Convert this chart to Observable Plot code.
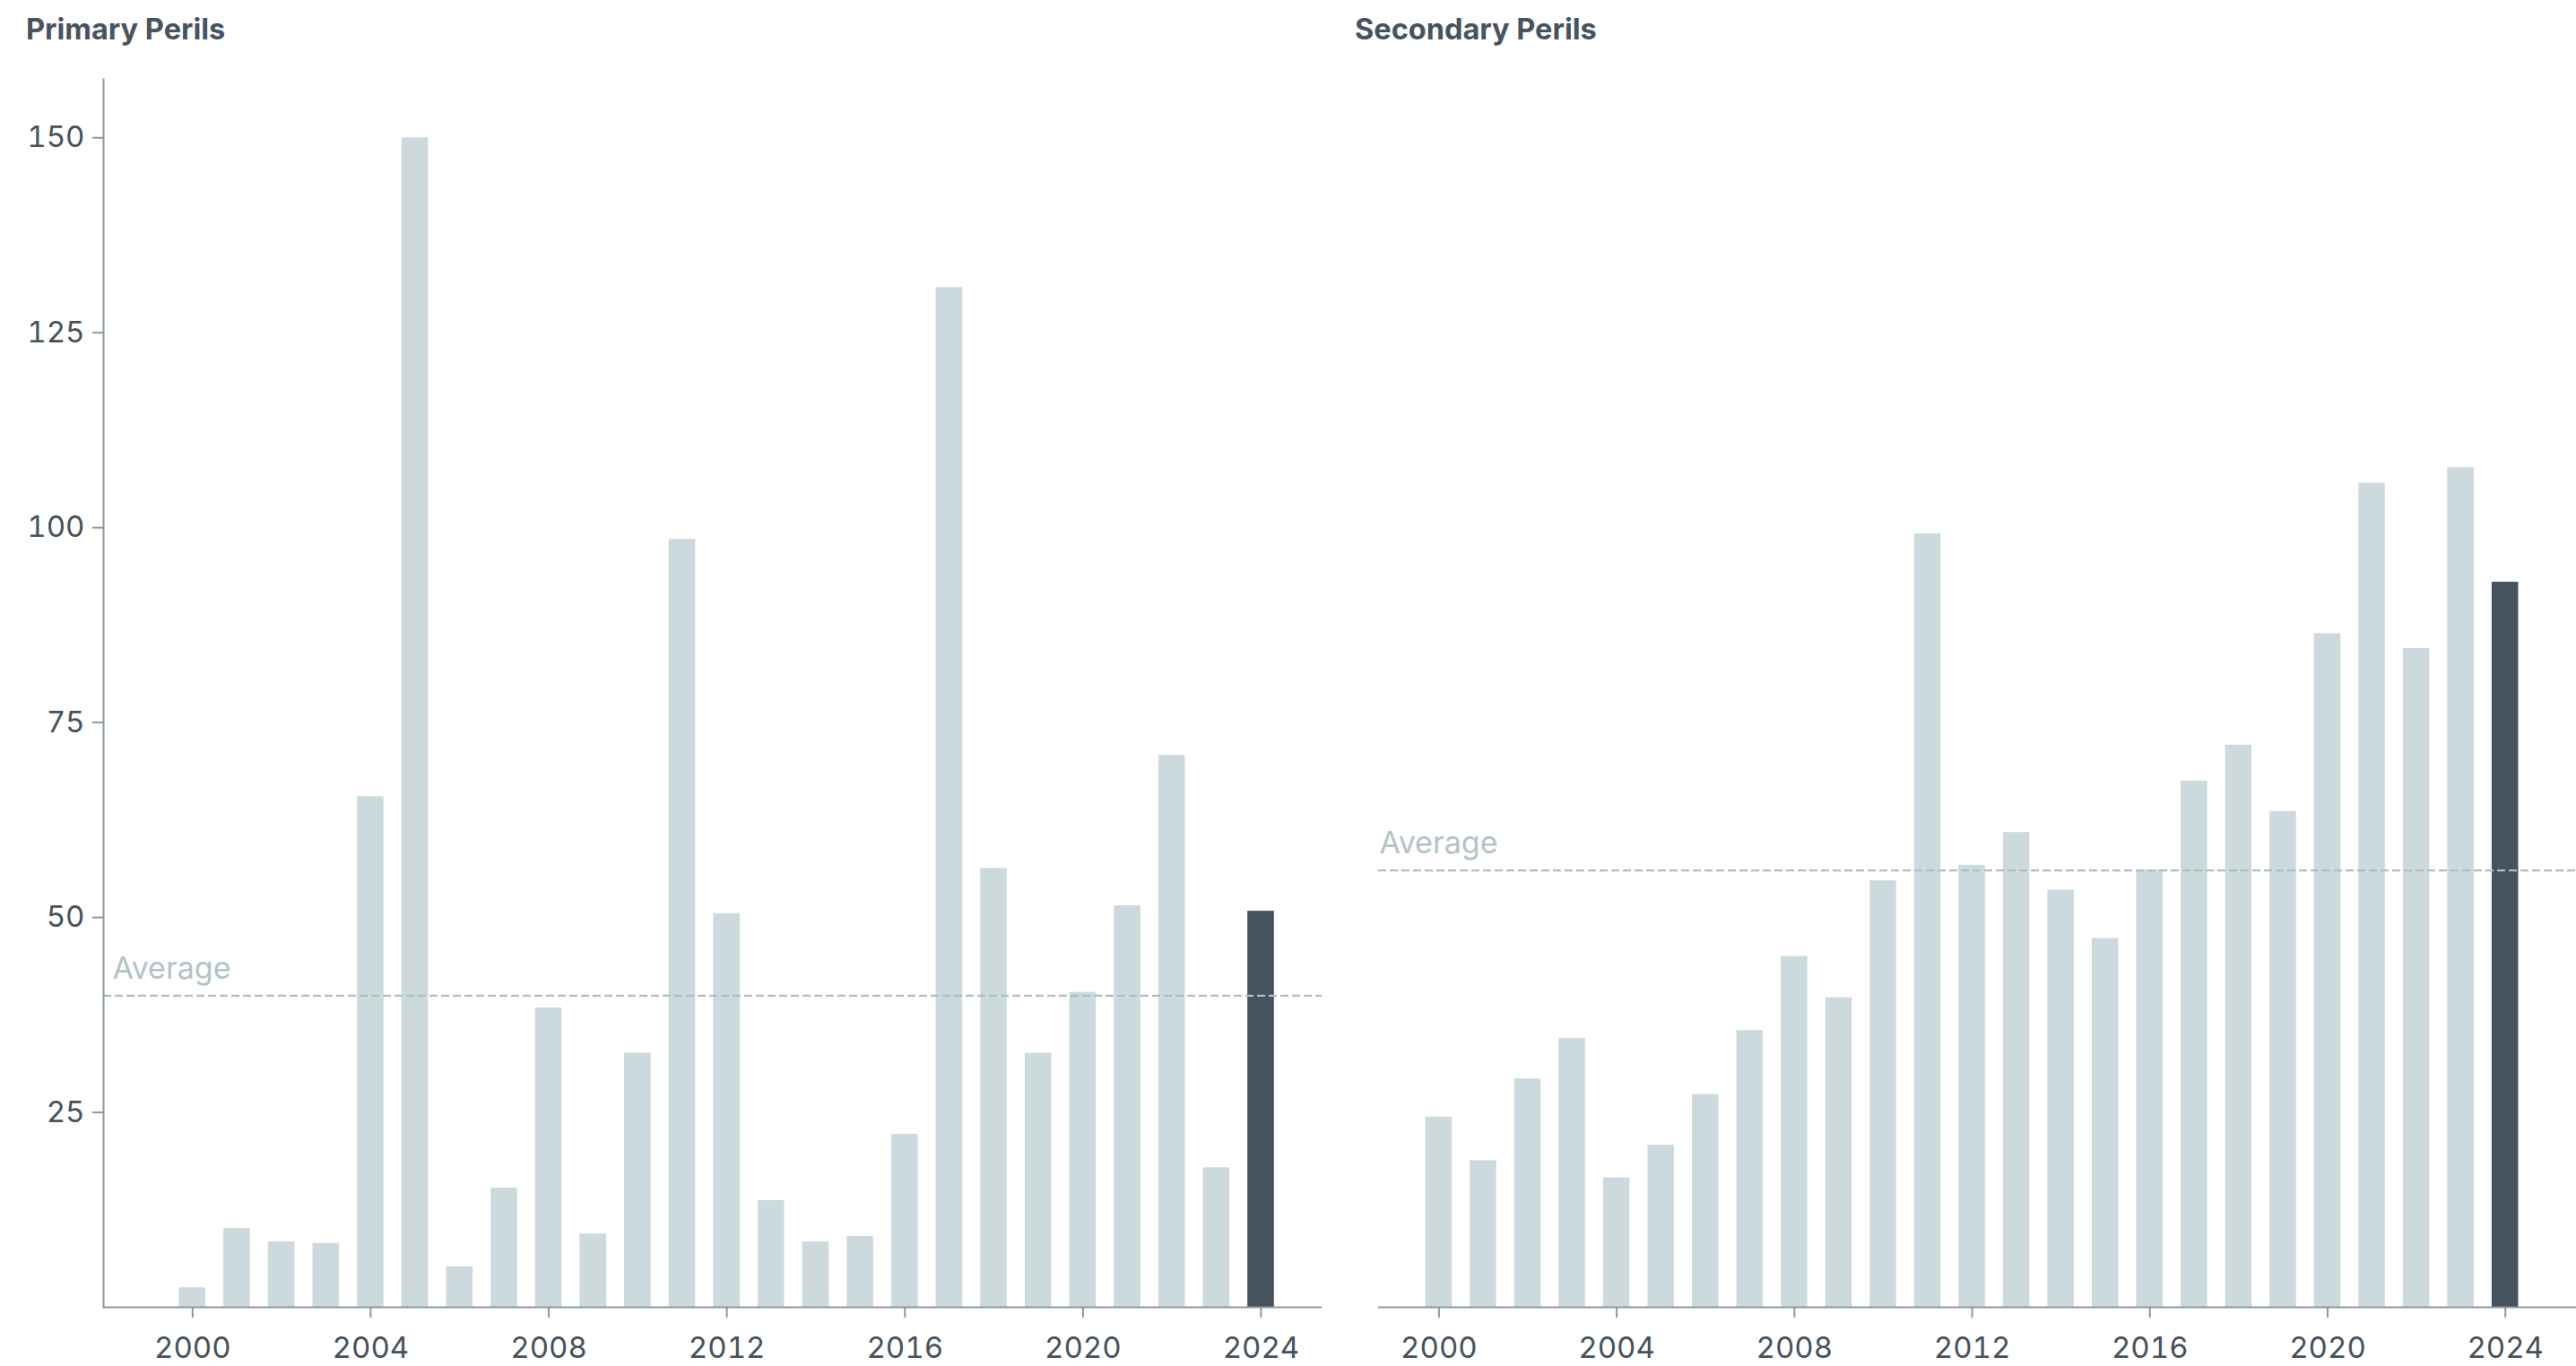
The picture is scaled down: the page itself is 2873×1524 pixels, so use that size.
<!DOCTYPE html>
<html><head><meta charset="utf-8">
<script src="https://cdn.jsdelivr.net/npm/d3@7"></script>
<script src="https://cdn.jsdelivr.net/npm/@observablehq/plot@0.6"></script>
<style>
html,body{margin:0;padding:0;background:#fff;}
#wrap{position:relative;width:2873px;height:1524px;overflow:hidden;font-family:Inter,sans-serif;}
.title{position:absolute;top:17px;font-weight:700;font-size:32.5px;line-height:1;color:#47535f;white-space:nowrap;}
.panel{position:absolute;top:0;}
</style></head><body>
<div id="wrap">
  <div class="title" style="left:29px">Primary Perils</div>
  <div class="title" style="left:1511px">Secondary Perils</div>
  <div id="p1" class="panel" style="left:0px"></div>
  <div id="p2" class="panel" style="left:1537px"></div>
</div>
<script>
const years = [2000,2001,2002,2003,2004,2005,2006,2007,2008,2009,2010,2011,2012,2013,2014,2015,2016,2017,2018,2019,2020,2021,2022,2023,2024];
const primary = [2.5,10.1,8.4,8.2,65.5,150,5.2,15.3,38.4,9.4,32.6,98.5,50.5,13.7,8.4,9.1,22.2,130.8,56.3,32.6,40.4,51.5,70.8,17.9,50.8];
const secondary = [24.4,18.8,29.3,34.5,16.6,20.8,27.3,35.5,45.0,39.7,54.7,99.2,56.7,60.9,53.5,47.3,56.1,67.5,72.1,63.6,86.4,105.7,84.5,107.7,93.0];
const yTicks = [25,50,75,100,125,150];
const xTicks = [2000,2004,2008,2012,2016,2020,2024];
const highlightYear = 2024;
const averageLabel = "Average";

const light = "#cddadd", dark = "#46525e", axisCol = "#8a9aa0", labelCol = "#46525c";
const avgCol = "#adbfc2", avgText = "#b2c4c7";
const FS = 33;
const yMax = d3.max([...primary, ...secondary]) * 1.05;

function panel(values, {width, xDomain, marginLeft, showY, labelDx}) {
  const data = years.map((year, i) => ({year, value: values[i]}));
  const avg = d3.mean(values);
  const marks = [
    Plot.rectY(data.filter(d => d.year !== highlightYear), {x1: d => d.year - 0.5, x2: d => d.year + 0.5, y1: 0, y2: "value", fill: light, insetLeft: 10, insetRight: 10}),
    Plot.rectY(data.filter(d => d.year === highlightYear), {x1: d => d.year - 0.5, x2: d => d.year + 0.5, y1: 0, y2: "value", fill: dark, insetLeft: 10, insetRight: 10}),
    Plot.ruleY([avg], {stroke: avgCol, strokeWidth: 2.2, strokeDasharray: "9,4"}),
    Plot.text([avg], {frameAnchor: "left", y: d => d, text: () => averageLabel, dx: labelDx, dy: -30, textAnchor: "start", fill: avgText, fontSize: 34}),
    Plot.ruleY([0], {stroke: axisCol, strokeWidth: 2}),
    Plot.axisX(xTicks, {tickSize: 12, tickPadding: 21, tickFormat: "d", stroke: axisCol, strokeWidth: 2, fill: labelCol, fontSize: FS, label: null})
  ];
  if (showY) {
    marks.push(Plot.axisY(yTicks, {tickSize: 12, tickPadding: 9, stroke: axisCol, strokeWidth: 2, fill: labelCol, fontSize: FS, label: null}));
    marks.push(Plot.frame({anchor: "left", stroke: axisCol, strokeWidth: 2}));
  }
  return Plot.plot({
    width, height: 1524,
    marginTop: 88, marginBottom: 66, marginLeft, marginRight: 0,
    style: {fontFamily: "Inter, sans-serif", background: "transparent", overflow: "visible", color: labelCol},
    x: {type: "linear", domain: xDomain, axis: null},
    y: {domain: [0, yMax], axis: null},
    marks
  });
}

document.getElementById("p1").append(panel(primary, {width: 1474, xDomain: [1998, 2025.37], marginLeft: 115, showY: true, labelDx: 10}));
document.getElementById("p2").append(panel(secondary, {width: 1336, xDomain: [1998.64, 2025.6], marginLeft: 0, showY: false, labelDx: 1}));
</script>
</body></html>
